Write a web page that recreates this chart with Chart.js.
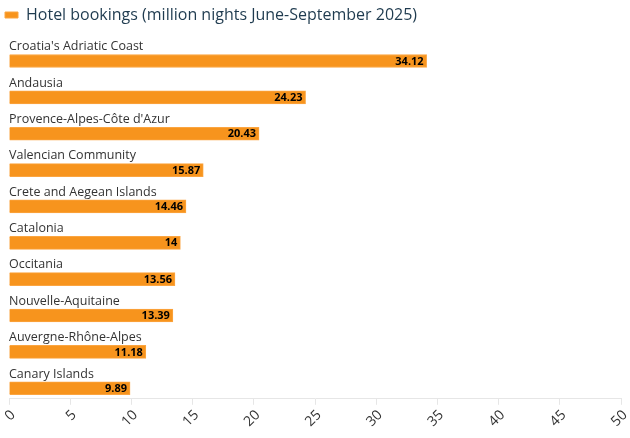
<!DOCTYPE html>
<html>
<head>
<meta charset="utf-8">
<script src="https://cdn.jsdelivr.net/npm/chart.js@4"></script>
<style>
  html, body { margin: 0; padding: 0; background: #fff; }
  #wrap { width: 630px; height: 438px; }
</style>
</head>
<body>
<div id="wrap"><canvas id="chart"></canvas></div>
<script>
// Data
var regions = ["Croatia's Adriatic Coast", "Andausia", "Provence-Alpes-Côte d'Azur", "Valencian Community",
    "Crete and Aegean Islands", "Catalonia", "Occitania", "Nouvelle-Aquitaine", "Auvergne-Rhône-Alpes", "Canary Islands"];
var bookings = [34.12, 24.23, 20.43, 15.87, 14.46, 14, 13.56, 13.39, 11.18, 9.89];
var xTicks = [0, 5, 10, 15, 20, 25, 30, 35, 40, 45, 50];

var FONT = "'Open Sans', 'Noto Sans', sans-serif";

// category names above bars, values at the bar end
var barLabels = {
    id: 'barLabels',
    afterDatasetsDraw: function (chart) {
        var ctx = chart.ctx;
        var meta = chart.getDatasetMeta(0);
        var xs = chart.scales.x;
        ctx.save();
        meta.data.forEach(function (bar, i) {
            ctx.font = "12.5px " + FONT;
            ctx.fillStyle = '#333';
            ctx.textAlign = 'left';
            ctx.textBaseline = 'bottom';
            ctx.fillText(regions[i], xs.getPixelForValue(0), bar.y - 8);

            ctx.font = "bold 11px " + FONT;
            ctx.fillStyle = '#000';
            ctx.textAlign = 'right';
            ctx.textBaseline = 'middle';
            ctx.fillText(String(bookings[i]), bar.x - 3, bar.y + 0.5);
        });
        ctx.restore();
    }
};

new Chart(document.getElementById('chart'), {
    type: 'bar',
    data: {
        datasets: [{
            label: 'Hotel bookings (million nights June-September 2025)',
            data: bookings.map(function (v, i) { return { x: v, y: i }; }),
            backgroundColor: '#f7941d',
            borderColor: '#fba541',
            borderWidth: 1,
            barThickness: 13
        }]
    },
    options: {
        indexAxis: 'y',
        responsive: true,
        maintainAspectRatio: false,
        animation: false,
        layout: { padding: { left: 2, right: 3, top: 4, bottom: 6 } },
        plugins: {
            legend: {
                align: 'start',
                labels: {
                    boxWidth: 13,
                    boxHeight: 6,
                    padding: 3,
                    color: '#1f3b4f',
                    font: { family: FONT, size: 16 }
                }
            },
            tooltip: { enabled: false }
        },
        scales: {
            x: {
                type: 'linear',
                min: 0,
                max: 50,
                afterBuildTicks: function (axis) {
                    axis.ticks = xTicks.map(function (v) { return { value: v }; });
                },
                afterFit: function (axis) {
                    // fixed side room instead of the auto label overflow
                    axis.paddingLeft = 9;
                    axis.paddingRight = 9;
                },
                grid: { drawOnChartArea: false, drawTicks: true, tickLength: 6, color: '#e6e6e6' },
                border: { color: '#e6e6e6' },
                ticks: {
                    minRotation: 45,
                    maxRotation: 45,
                    labelOffset: 4,
                    color: '#333',
                    padding: 2,
                    font: { family: FONT, size: 14 }
                }
            },
            y: {
                type: 'linear',
                reverse: true,
                offset: false,
                bounds: 'data',
                min: -0.77,
                max: 9.29,
                display: false
            }
        }
    },
    plugins: [barLabels]
});
</script>
</body>
</html>
